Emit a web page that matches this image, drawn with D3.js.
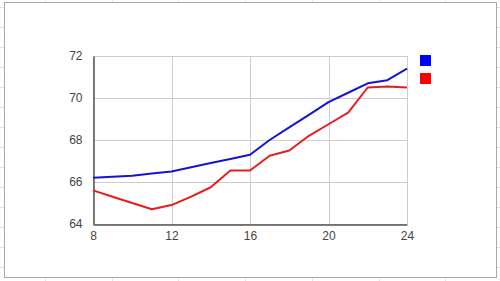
<!DOCTYPE html>
<html>
<head>
<meta charset="utf-8">
<script src="https://cdn.jsdelivr.net/npm/d3@7"></script>
<style>
  body { margin: 0; background: #fff; }
  svg { display: block; }
</style>
</head>
<body>
<svg id="chart" width="500" height="281"></svg>
<script>
  var xValues = [8, 9, 10, 11, 12, 13, 14, 15, 16, 17, 18, 19, 20, 21, 22, 23, 24];
  var blueSeries = [66.2, 66.25, 66.3, 66.4, 66.5, 66.7, 66.9, 67.1, 67.3, 68.0, 68.6, 69.2, 69.8, 70.25, 70.7, 70.85, 71.4];
  var redSeries = [65.6, 65.3, 65.0, 64.7, 64.9, 65.3, 65.75, 66.55, 66.55, 67.25, 67.5, 68.2, 68.75, 69.3, 70.5, 70.55, 70.5];
  var xTicks = [8, 12, 16, 20, 24];
  var yTicks = [64, 66, 68, 70, 72];
  var seriesColors = ['#1414d2', '#e41e1e'];
  var legendColors = ['#0000ff', '#ff0000'];

  var svg = d3.select('#chart');

  // spreadsheet cells behind the chart box
  var sheet = svg.append('g').attr('stroke', '#e4e4e4').attr('stroke-width', 1);
  d3.range(45, 500, 66.7).forEach(function(x) {
    sheet.append('line').attr('x1', Math.round(x) + 0.5).attr('x2', Math.round(x) + 0.5)
      .attr('y1', 0).attr('y2', 281);
  });
  d3.range(7, 281, 20).forEach(function(y) {
    sheet.append('line').attr('x1', 0).attr('x2', 500)
      .attr('y1', y + 0.5).attr('y2', y + 0.5);
  });

  svg.append('rect')
    .attr('x', 4.5).attr('y', 2.5)
    .attr('width', 492).attr('height', 275)
    .attr('fill', '#fff')
    .attr('stroke', '#a8a8a8');

  var x = d3.scaleLinear().domain([8, 24]).range([93, 407]);
  var y = d3.scaleLinear().domain([64, 72]).range([224, 56]);

  var grid = svg.append('g').attr('id', 'grid');
  grid.selectAll('line.v')
    .data(xTicks)
    .enter()
    .append('line')
    .attr('x1', d => Math.round(x(d)) + 0.5)
    .attr('x2', d => Math.round(x(d)) + 0.5)
    .attr('y1', y(72)).attr('y2', y(64))
    .attr('stroke', '#cccccc');
  grid.selectAll('line.h')
    .data(yTicks)
    .enter()
    .append('line')
    .attr('x1', x(8)).attr('x2', x(24))
    .attr('y1', d => Math.round(y(d)) + 0.5)
    .attr('y2', d => Math.round(y(d)) + 0.5)
    .attr('stroke', '#cccccc');

  var yAxis = svg.append('g')
    .attr('transform', 'translate(' + (x(8) + 0.5) + ',0)')
    .call(d3.axisLeft(y).tickValues(yTicks).tickSize(0).tickPadding(11));
  var xAxis = svg.append('g')
    .attr('transform', 'translate(0,' + (y(64) + 0.5) + ')')
    .call(d3.axisBottom(x).tickValues(xTicks).tickSize(0).tickPadding(7));

  [yAxis, xAxis].forEach(function(a) {
    a.select('.domain').attr('stroke', '#555').attr('stroke-width', 1.5);
    a.selectAll('text')
      .attr('fill', '#444')
      .style('font-family', 'Liberation Sans, Arial, sans-serif')
      .style('font-size', '12px');
  });

  var line = d3.line()
    .x(function(d, i) { return x(xValues[i]); })
    .y(function(d) { return y(d); });

  svg.append('g').attr('id', 'lines')
    .selectAll('path')
    .data([blueSeries, redSeries])
    .enter()
    .append('path')
    .attr('d', d => line(d))
    .attr('fill', 'none')
    .attr('stroke', (d, i) => seriesColors[i])
    .attr('stroke-width', 2)
    .attr('stroke-linejoin', 'round');

  svg.append('g').attr('id', 'legend')
    .selectAll('rect')
    .data(legendColors)
    .enter()
    .append('rect')
    .attr('x', 420)
    .attr('y', (d, i) => 55 + i * 18)
    .attr('width', 11)
    .attr('height', 11)
    .attr('fill', d => d);
</script>
</body>
</html>
